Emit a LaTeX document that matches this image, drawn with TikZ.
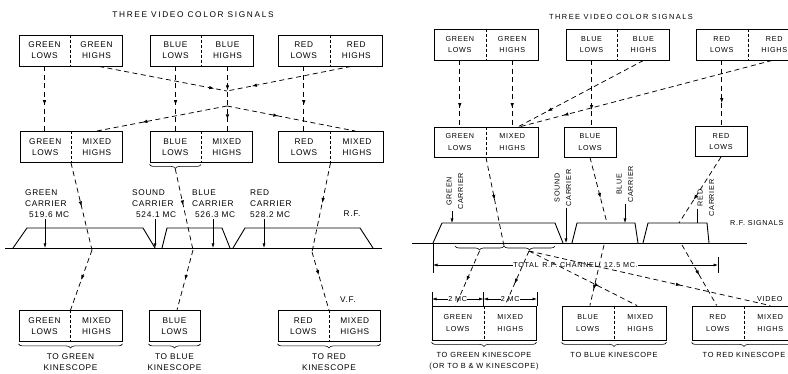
\documentclass[tikz,border=0pt]{standalone}
\usepackage{fontspec}
\setmainfont{Liberation Sans}
\newfontfamily\lblfont[LetterSpace=8]{Liberation Sans}
\newfontfamily\ttlfont[LetterSpace=20]{Liberation Sans}
\newfontfamily\rlblfont[LetterSpace=10]{Liberation Sans}
\usetikzlibrary{arrows.meta,decorations.markings,decorations.pathreplacing,calc}
\newcommand\mkdbox[6]{%
  \node[box, minimum width=#4pt] (#1) at (#2,#3) {};
  \draw[div] (#1.north) -- (#1.south);
  \node[lbl] (#1l) at ($(#1.west)!0.5!(#1.center)$) {#5};
  \node[lbl] (#1r) at ($(#1.center)!0.5!(#1.east)$) {#6};
}
\newcommand\mksbox[5]{%
  \node[box, minimum width=#4pt] (#1) at (#2,#3) {};
  \node[lbl] (#1l) at (#1.center) {#5};
}
\begin{document}
\begin{tikzpicture}[x=1pt,y=-1pt,
  box/.style={draw, line width=0.9pt, minimum height=31pt, inner sep=0pt},
  lbl/.style={font=\lblfont\fontsize{8.3}{11}\selectfont, align=center, inner sep=0pt},
  captxt/.style={lbl},
  ttl/.style={font=\ttlfont\fontsize{8.3}{10}\selectfont, inner sep=0pt},
  div/.style={dash pattern=on 3pt off 2pt, line width=0.6pt},
  sig/.style={dash pattern=on 5pt off 3.5pt, line width=0.75pt},
  ma/.style={postaction={decorate, decoration={markings, mark=at position #1 with {\arrow{Latex[length=5pt,width=3.5pt]}}}}},
  ln/.style={line width=0.9pt},
  carr/.style={line width=0.6pt, -{Latex[length=4.5pt,width=3pt]}},
  dim/.style={line width=0.6pt, {Latex[length=4.5pt,width=3pt]}-{Latex[length=4.5pt,width=3pt]}},
  brc/.style={decorate, decoration={brace, mirror, amplitude=4pt}, line width=0.6pt},
]
\useasboundingbox (0,0) rectangle (788,374);

% ================= LEFT PANEL =================
\node[ttl] (ttlL) at (193,15) {THREE VIDEO COLOR SIGNALS};

\mkdbox{tg}{70.5}{50.5}{103}{GREEN\\LOWS}{GREEN\\HIGHS}
\mkdbox{tb}{201.5}{50.5}{103}{BLUE\\LOWS}{BLUE\\HIGHS}
\mkdbox{tr}{330}{50.5}{104}{RED\\LOWS}{RED\\HIGHS}
\mkdbox{mg}{71}{147}{102}{GREEN\\LOWS}{MIXED\\HIGHS}
\mkdbox{mb}{201}{147}{102}{BLUE\\LOWS}{MIXED\\HIGHS}
\mkdbox{mr}{330.5}{147}{105}{RED\\LOWS}{MIXED\\HIGHS}
\mkdbox{bg}{70.5}{326}{103}{GREEN\\LOWS}{MIXED\\HIGHS}
\mksbox{bb}{174.5}{326}{51}{BLUE\\LOWS}
\mkdbox{br}{329}{326}{102}{RED\\LOWS}{MIXED\\HIGHS}

% top -> middle
\draw[sig, ma=0.6] (tgl |- tg.south) -- (tgl |- mg.north);
\draw[sig, ma=0.6] (tbl |- tb.south) -- (tbl |- mb.north);
\draw[sig, ma=0.6] (trl |- tr.south) -- (trl |- mr.north);
\draw[sig, ma=0.37, ma=0.82] (tbr |- tb.south) -- (tbr |- mb.north);
\coordinate (j1) at (227,91);
\coordinate (j2) at (227,106);
\draw[sig, ma=0.9] ($(tg.south)!0.55!(tg.south east)$) -- (j1);
\draw[sig, ma=0.8] ($(tr.south)!0.4!(tr.south east)$) -- (j1);
\draw[sig, ma=0.65] (j2) -- ($(mg.north)!0.5!(mg.north east)$);
\draw[sig, ma=0.4] (j2) -- ($(mr.north)!0.47!(mr.north east)$);

% spectrum
\draw[ln] (5,248) -- (382,248);
\draw[ln] (13,248) -- (27,228) -- (143,228) -- (155,248);
\draw[ln] (162,248) -- (167,228) -- (222,228) -- (230,248);
\draw[ln] (233,248) -- (245,228) -- (360,228) -- (373,248);

\node[lbl, align=left, anchor=north west] (gc) at (25,189.5) {GREEN\\CARRIER\\\hspace*{4pt}519.6 MC};
\node[lbl, align=left, anchor=north west] (sc) at (132,189.5) {SOUND\\CARRIER\\\hspace*{4pt}524.1 MC};
\node[lbl, align=left, anchor=north west] (bc) at (192,189.5) {BLUE\\CARRIER\\\hspace*{3pt}526.3 MC};
\node[lbl, align=left, anchor=north west] (rc) at (250,189.5) {RED\\CARRIER\\528.2 MC};
\coordinate (gca) at (45,248);
\coordinate (sca) at (155,248);
\coordinate (bca) at (213,248);
\coordinate (rca) at (264,248);
\draw[carr] ($(gca |- gc.south)+(0,1)$) -- (gca);
\draw[carr] ($(sca |- sc.south)+(0,1)$) -- (sca);
\draw[carr] ($(bca |- bc.south)+(0,1)$) -- (bca);
\draw[carr] ($(rca |- rc.south)+(0,1)$) -- (rca);
\node[lbl] (rfL) at (352,214) {R.F.};

% middle -> spectrum -> bottom
\draw[brc] ($(mb.south west)+(0,1.5)$) -- ($(mb.south)+(0,1.5)$);
\coordinate (mbt) at ($(mb.south west)!0.5!(mb.south)+(0,6)$);
\coordinate (gk) at (92,250);
\coordinate (bk) at (193,250);
\coordinate (rk) at (312,252);
\draw[sig, ma=0.5] (mg.south) -- (gk);
\draw[sig, ma=0.5] (gk) -- (bg.north);
\draw[sig, ma=0.45] (mbt) -- (bk);
\draw[sig, ma=0.5] (bk) -- ($(bb.north)+(2.5,0)$);
\draw[sig, ma=0.45] (mr.south) -- (rk);
\draw[sig, ma=0.4] (rk) -- (br.north);
\node[lbl] (vf) at (348,300) {V.F.};

\draw[brc] ($(bg.south west)+(0,2)$) -- ($(bg.south east)+(0,2)$);
\draw[brc] ($(bb.south west)+(0,2)$) -- ($(bb.south east)+(0,2)$);
\draw[brc] ($(br.south west)+(0,2)$) -- ($(br.south east)+(0,2)$);
\node[captxt, anchor=north] (bgt) at ($(bg.south)+(0,11.5)$) {TO GREEN\\KINESCOPE};
\node[captxt, anchor=north] (bbt) at ($(bb.south)+(0,11.5)$) {TO BLUE\\KINESCOPE};
\node[captxt, anchor=north] (brt) at ($(br.south)+(0,11.5)$) {TO RED\\KINESCOPE};

% ================= RIGHT PANEL =================
\begin{scope}[lbl/.style={font=\rlblfont\fontsize{7.2}{11.5}\selectfont, align=center, inner sep=0pt},
  captxt/.style={font=\rlblfont\fontsize{7.4}{10.5}\selectfont, align=center, inner sep=0pt},
  ttl/.style={font=\ttlfont\fontsize{7.4}{10}\selectfont, inner sep=0pt}]
\node[ttl] (ttlR) at (621,17) {THREE VIDEO COLOR SIGNALS};

\mkdbox{rtg}{486}{44.5}{104}{GREEN\\LOWS}{GREEN\\HIGHS}
\mkdbox{rtb}{617.5}{44.5}{103}{BLUE\\LOWS}{BLUE\\HIGHS}
\mkdbox{rtr}{748}{44.5}{104}{RED\\LOWS}{RED\\HIGHS}
\begin{scope}[box/.append style={minimum height=30pt}]
\mkdbox{rmg}{486}{142}{104}{GREEN\\LOWS}{MIXED\\HIGHS}
\mksbox{rmb}{590}{142}{52}{BLUE\\LOWS}
\mksbox{rmr}{721}{141.5}{52}{RED\\LOWS}
\end{scope}
\begin{scope}[box/.append style={minimum height=34pt}]
\mkdbox{rbg}{484}{323}{104}{GREEN\\LOWS}{MIXED\\HIGHS}
\mkdbox{rbb}{614}{323}{104}{BLUE\\LOWS}{MIXED\\HIGHS}
\mkdbox{rbr}{744}{323}{104}{RED\\LOWS}{MIXED\\HIGHS}
\end{scope}

% top -> middle
\draw[sig, ma=0.72] (rtgl |- rtg.south) -- (rtgl |- rmg.north);
\draw[sig, ma=0.72] (rtgr |- rtg.south) -- (rtgr |- rmg.north);
\draw[sig, ma=0.75] (rtbl |- rtb.south) -- (rtbl |- rmb.north);
\draw[sig, ma=0.65] (rtrl |- rtr.south) -- (rtrl |- rmr.north);
\draw[sig, ma=0.77] ($(rtb.south)!0.5!(rtb.south east)$) -- ($(rmg.north)!0.62!(rmg.north east)$);
\draw[sig, ma=0.83] ($(rtr.south)!0.46!(rtr.south east)$) -- ($(rmg.north)!0.66!(rmg.north east)$);

% spectrum
\draw[ln] (412,243) -- (747,243);
\draw[ln] (433,243) -- (442,223) -- (555,223) -- (563,243);
\draw[ln] (572,243) -- (577,223) -- (635,223) -- (638,243);
\draw[ln] (643,243) -- (648,223) -- (707,223) -- (709,243);

\node[lbl, rotate=90] (rgc) at (455,191.5) {GREEN\\CARRIER};
\node[lbl, rotate=90] (rsc) at (563,188) {SOUND\\CARRIER};
\node[lbl, rotate=90] (rbc) at (625,184.5) {BLUE\\CARRIER};
\node[lbl, rotate=90] (rrc) at (706,198) {RED\\CARRIER};
\coordinate (rgca) at (452,223);
\coordinate (rsca) at (566,243);
\coordinate (rbca) at (625,223);
\coordinate (rrca) at (697,223);
\draw[carr] ($(rgca |- rgc.west)+(0,1)$) -- (rgca);
\draw[carr] ($(rsca |- rsc.west)+(0,1)$) -- (rsca);
\draw[carr] ($(rbca |- rbc.west)+(0,1)$) -- (rbca);
\draw[line width=0.6pt] (697,209) -- (rrca);
\node[lbl, anchor=west] (rfR) at (730,223) {R.F. SIGNALS};

% braces under spectrum
\draw[brc] (455,246) -- (504,246);
\draw[brc] (504,246) -- (555,246);
\coordinate (rt1) at (479.5,251);
\coordinate (rt2) at (529,251);
\coordinate (rgb) at (504,246);

% dimension lines
\draw[line width=0.7pt] (433,244) -- (433,273);
\draw[line width=0.7pt] (718,257) -- (718,273);
\draw[dim] (433,265) -- (718,265) node[midway, fill=white, inner xsep=3pt, lbl] (tot) {TOTAL\enspace R.F. CHANNEL, 12.5 MC.};
\draw[line width=0.7pt] (432,292) -- (432,306);
\draw[line width=0.7pt] (483.5,292) -- (483.5,306);
\draw[line width=0.7pt] (537,292) -- (537,306);
\draw[dim] (432,299) -- (483.5,299) node[midway, fill=white, inner xsep=2pt, lbl] (mc1) {2 MC};
\draw[dim] (483.5,299) -- (537,299) node[midway, fill=white, inner xsep=2pt, lbl] (mc2) {2 MC};

% middle -> spectrum
\coordinate (rbk1) at (607,223);
\coordinate (rbk2) at (604,245);
\coordinate (rrk1) at (679,223);
\coordinate (rrk2) at (682,245);
\draw[sig, ma=0.48] (rmg.south) -- (rgb);
\draw[sig, ma=0.62] (rmb.south) -- (rbk1);
\draw[sig, ma=0.65] (rmr.south) -- (rrk1);

% spectrum -> bottom
\draw[sig, ma=0.55] (rt1) -- ($(rbg.north west)!0.46!(rbg.north)$);
\draw[sig, ma=0.6] (rt2) -- ($(rbg.north)!0.4!(rbg.north east)$);
\draw[sig, ma=0.74] (rbk2) -- ($(rbb.north west)!0.54!(rbb.north)$);
\draw[sig, ma=0.5] (rrk2) -- ($(rbr.north west)!0.48!(rbr.north)$);
\draw[sig, ma=0.65] (rt2) -- ($(rbb.north)!0.44!(rbb.north east)$);
\draw[sig, ma=0.63] (rt2) -- ($(rbr.north)!0.5!(rbr.north east)$);
\node[lbl, anchor=west] (video) at (757,299) {VIDEO};

\draw[brc] ($(rbg.south west)+(0,2)$) -- ($(rbg.south east)+(0,2)$);
\draw[brc] ($(rbb.south west)+(0,2)$) -- ($(rbb.south east)+(0,2)$);
\draw[brc] ($(rbr.south west)+(0,2)$) -- ($(rbr.south east)+(0,2)$);
\node[captxt, anchor=north] (rbgt) at ($(rbg.south)+(0,12)$) {TO GREEN KINESCOPE\\(OR TO B \& W KINESCOPE)};
\node[captxt, anchor=north] (rbbt) at ($(rbb.south)+(0,12)$) {TO BLUE KINESCOPE};
\node[captxt, anchor=north] (rbrt) at ($(rbr.south)+(0,12)$) {TO RED KINESCOPE};
\end{scope}
\end{tikzpicture}
\end{document}
